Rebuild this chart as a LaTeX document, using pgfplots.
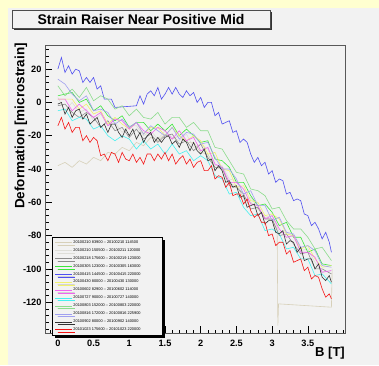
\documentclass[border=0pt]{standalone}
\usepackage{fontspec}
\setmainfont{Liberation Sans}
\usepackage{pgfplots}
\pgfplotsset{compat=1.18}
\usepackage{pgfplotstable}
\usetikzlibrary{shadows}
\definecolor{bgy}{RGB}{255,255,208}
\definecolor{pad}{RGB}{242,242,242}
\definecolor{cA}{RGB}{215,208,185}
\definecolor{cB}{RGB}{222,222,216}
\definecolor{cC}{RGB}{140,140,140}
\definecolor{cD}{RGB}{60,230,60}
\definecolor{cE}{RGB}{80,80,240}
\definecolor{cF}{RGB}{240,240,110}
\definecolor{cG}{RGB}{240,100,240}
\definecolor{cH}{RGB}{70,240,240}
\definecolor{cI}{RGB}{140,220,140}
\definecolor{cJ}{RGB}{160,160,240}
\definecolor{cK}{RGB}{50,50,50}
\definecolor{cL}{RGB}{245,20,20}
\newcommand{\LE}[1]{\makebox[86pt][l]{#1}}

\pgfplotstableread{
B lg gr gn ye ma cy lgn lav
0.0 3 -2 4 2 2 -5 10 14
0.1 -5 -1 5 2 2 -4 4 11
0.2 0 -6 6 2 -5 -11 8 5
0.3 -6 -9 0 -4 -1 -9 3 1
0.4 -4 -6 2 -1 -5 -10 9 4
0.5 -11 -9 -5 -7 -9 -16 1 -5
0.6 -7 -15 -2 -5 -6 -14 4 -4
0.7 -14 -11 -8 -13 -14 -20 2 -6
0.8 -12 -17 -11 -9 -10 -23 -4 -13
0.9 -18 -15 -8 -13 -11 -20 -2 -10
1.0 -14 -21 -15 -16 -16 -22 -8 -15
1.1 -14 -16 -12 -12 -12 -28 -4 -12
1.2 -20 -22 -12 -19 -17 -23 -9 -19
1.3 -17 -19 -17 -15 -19 -28 -10 -14
1.4 -22 -24 -13 -15 -15 -25 -6 -17
1.5 -17 -20 -17 -20 -17 -31 -13 -20
1.6 -21 -19 -13 -15 -22 -25 -9 -15
1.7 -23 -25 -20 -20 -17 -31 -9 -22
1.8 -19 -23 -16 -23 -23 -29 -15 -18
1.9 -27 -29 -20 -20 -21 -35 -12 -19
2.0 -25 -25 -24 -23 -29 -32 -17 -25
2.1 -28 -33 -23 -31 -27 -35 -17 -24
2.2 -38 -39 -34 -30 -37 -44 -27 -33
2.3 -38 -39 -35 -40 -39 -46 -28 -40
2.4 -46 -50 -39 -41 -48 -55 -35 -40
2.5 -47 -51 -48 -51 -48 -54 -42 -46
2.6 -58 -55 -48 -50 -52 -63 -43 -55
2.7 -57 -64 -56 -59 -61 -68 -52 -53
2.8 -63 -63 -62 -60 -62 -67 -53 -62
2.9 -69 -70 -61 -68 -70 -77 -56 -62
3.0 -68 -70 -66 -67 -68 -76 -64 -71
3.1 -78 -80 -74 -70 -76 -79 -63 -69
3.2 -78 -79 -72 -79 -81 -88 -71 -78
3.3 -81 -85 -81 -80 -80 -87 -76 -79
3.4 -89 -91 -81 -88 -90 -94 -76 -87
3.5 -88 -90 -90 -86 -90 -94 -81 -86
3.6 -96 -100 -88 -94 -93 -104 -88 -89
3.7 -102 -100 -97 -99 -102 -103 -87 -98
3.83 -101 -103 -98 -98 -101 -109 -95 -99
}\tenth

\begin{document}
\begin{tikzpicture}[x=1pt,y=1pt]
\useasboundingbox (0,0) rectangle (379,365);
\fill[bgy] (0,0) rectangle (379,365);
\fill[pad] (8,0) rectangle (379,357);
\fill[black!80] (14,335) rectangle (272,353);
\filldraw[fill=pad, draw=gray!60!black, line width=0.6pt] (12,337) rectangle (270,355);
\node[font=\bfseries\fontsize{14}{16}\selectfont] at (141,346) {Strain Raiser Near Positive Mid};
\begin{axis}[
  at={(45pt,32pt)}, anchor=south west, scale only axis,
  width=300pt, height=288pt,
  xmin=-0.18, xmax=4.02, ymin=-138.5, ymax=34.5,
  axis background/.style={fill=pad},
  axis line style={draw=gray!70!black, line width=0.6pt},
  tick align=inside, xtick pos=bottom, ytick pos=left,
  xtick={0,0.5,1,1.5,2,2.5,3,3.5},
  xticklabels={0,0.5,1,1.5,2,2.5,3,3.5},
  ytick={-120,-100,-80,-60,-40,-20,0,20},
  yticklabels={-120,-100,-80,-60,-40,-20,0,20},
  minor xtick={-0.1,0,0.1,...,4.01},
  minor ytick={-136,-132,...,32},
  major tick length=7pt, minor tick length=3.5pt,
  tick style={black, line width=0.5pt},
  ticklabel style={font=\bfseries\fontsize{9.2}{10}\selectfont},
  xticklabel style={yshift=-4pt},
  clip=true,
  legend style={at={(0.0233,0.333)}, anchor=north west,
    font=\fontsize{3.9}{4.2}\selectfont, draw=black, fill=pad, line width=0.5pt,
    drop shadow={shadow xshift=2.5pt, shadow yshift=-2.5pt, fill=black, opacity=1},
    row sep=2.1pt, inner sep=2.5pt, nodes={inner sep=0.8pt}},
  legend cell align=left,
  legend image code/.code={\draw[line width=0.9pt] (0pt,0pt) -- (17pt,0pt);},
]
\addplot[cA, line width=0.6pt] coordinates {(0,-38)(0.1,-36)(0.2,-39)(0.3,-35)(0.4,-37)(0.5,-33)(0.6,-35)(0.7,-30)(0.8,-31)(0.9,-27)(1.0,-29)(1.1,-24)(1.2,-26)(1.3,-21)(1.4,-23)(1.5,-19)(1.6,-22)(1.7,-20)(1.8,-24)(1.9,-24)(2.0,-30)(2.1,-31)(2.2,-39)(2.3,-40)(2.4,-49)(2.5,-50)(2.6,-57)(2.7,-60)(2.8,-64)(2.9,-69)(3.0,-71)(3.07,-76)(3.08,-134)(3.09,-121)(3.83,-123)(3.84,-100)};
\addlegendentry{\LE{20100210 83900 -- 20100210 114500}}
\addplot[cB, line width=0.6pt] table[x=B,y=lg]{\tenth};
\addlegendentry{\LE{20100210 150500 -- 20100211 120000}}
\addplot[cC, line width=0.6pt] table[x=B,y=gr]{\tenth};
\addlegendentry{\LE{20100218 175600 -- 20100219 123000}}
\addplot[cD, line width=0.6pt] table[x=B,y=gn]{\tenth};
\addlegendentry{\LE{20100305 123000 -- 20100305 163000}}
\addplot[cE, line width=0.6pt] coordinates {(0,20)(0.05,27)(0.1,18)(0.15,22)(0.2,17)(0.25,20)(0.3,19)(0.35,12)(0.4,15)(0.45,12)(0.5,15)(0.55,8)(0.6,10)(0.65,2)(0.7,2)(0.75,2)(0.8,-3)(1.1,-2)(1.15,4)(1.2,-1)(1.25,5)(1.3,7)(1.35,4)(1.4,9)(1.45,2)(1.5,5)(1.55,9)(1.6,5)(1.65,9)(1.7,5)(1.75,3)(1.8,7)(1.85,4)(1.9,6)(1.95,0)(2.0,3)(2.05,-3)(2.1,0)(2.15,0)(2.2,-8)(2.25,-6)(2.3,-13)(2.35,-12)(2.4,-11)(2.45,-18)(2.5,-17)(2.55,-24)(2.6,-22)(2.65,-24)(2.7,-31)(2.75,-36)(2.8,-33)(2.85,-38)(2.9,-36)(2.95,-43)(3.0,-41)(3.05,-48)(3.1,-46)(3.15,-47)(3.2,-55)(3.25,-54)(3.3,-59)(3.35,-58)(3.4,-59)(3.45,-67)(3.5,-68)(3.55,-74)(3.6,-72)(3.65,-76)(3.7,-82)(3.75,-78)(3.8,-84)(3.83,-90)};
\addlegendentry{\LE{20100415 144500 -- 20100415 220000}}
\addplot[cF, line width=0.6pt] table[x=B,y=ye]{\tenth};
\addlegendentry{\LE{20100430 80000 -- 20100430 130000}}
\addplot[cG, line width=0.6pt] table[x=B,y=ma]{\tenth};
\addlegendentry{\LE{20100602 82900 -- 20100602 114000}}
\addplot[cH, line width=0.6pt] table[x=B,y=cy]{\tenth};
\addlegendentry{\LE{20100727 90000 -- 20100727 140000}}
\addplot[cI, line width=0.6pt] table[x=B,y=lgn]{\tenth};
\addlegendentry{\LE{20100803 152000 -- 20100803 220000}}
\addplot[cJ, line width=0.6pt] table[x=B,y=lav]{\tenth};
\addlegendentry{\LE{20100816 172000 -- 20100816 225900}}
\addplot[cK, line width=0.6pt] coordinates {(0,-1)(0.05,0)(0.1,-7)(0.15,-3)(0.2,-9)(0.25,-5)(0.3,-4)(0.35,-10)(0.4,-7)(0.45,-13)(0.5,-11)(0.55,-9)(0.6,-15)(0.65,-13)(0.7,-18)(0.75,-13)(0.8,-13)(0.85,-18)(0.9,-21)(0.95,-16)(1.0,-20)(1.05,-16)(1.1,-22)(1.15,-18)(1.2,-24)(1.25,-20)(1.3,-18)(1.35,-24)(1.4,-21)(1.45,-24)(1.5,-21)(1.55,-20)(1.6,-25)(1.65,-23)(1.7,-27)(1.75,-22)(1.8,-24)(1.85,-29)(1.9,-24)(1.95,-29)(2.0,-31)(2.05,-28)(2.1,-35)(2.15,-34)(2.2,-41)(2.25,-38)(2.3,-41)(2.35,-48)(2.4,-47)(2.45,-51)(2.5,-50)(2.55,-57)(2.6,-56)(2.65,-63)(2.7,-62)(2.75,-61)(2.8,-68)(2.85,-66)(2.9,-73)(2.95,-71)(3.0,-71)(3.05,-78)(3.1,-79)(3.15,-77)(3.2,-85)(3.25,-83)(3.3,-84)(3.35,-90)(3.4,-87)(3.45,-95)(3.5,-94)(3.55,-94)(3.6,-100)(3.65,-97)(3.7,-105)(3.75,-107)(3.8,-104)(3.83,-108)};
\addlegendentry{\LE{20100902 80000 -- 20100902 140000}}
\addplot[cL, line width=0.6pt] coordinates {(0,-14)(0.05,-9)(0.1,-16)(0.15,-12)(0.2,-18)(0.25,-15)(0.3,-15)(0.35,-23)(0.4,-20)(0.45,-24)(0.5,-21)(0.55,-23)(0.6,-32)(0.65,-31)(0.7,-35)(0.75,-30)(0.8,-31)(0.85,-36)(0.9,-30)(0.95,-34)(1.0,-35)(1.05,-31)(1.1,-36)(1.15,-33)(1.2,-37)(1.25,-31)(1.3,-31)(1.35,-35)(1.4,-31)(1.45,-34)(1.5,-30)(1.55,-35)(1.6,-31)(1.65,-37)(1.7,-34)(1.75,-32)(1.8,-37)(1.85,-34)(1.9,-39)(1.95,-36)(2.0,-35)(2.05,-41)(2.1,-41)(2.15,-38)(2.2,-46)(2.25,-44)(2.3,-45)(2.35,-51)(2.4,-48)(2.45,-56)(2.5,-55)(2.55,-55)(2.6,-61)(2.65,-58)(2.7,-65)(2.75,-69)(2.8,-67)(2.85,-72)(2.9,-72)(2.95,-80)(3.0,-79)(3.05,-86)(3.1,-84)(3.15,-84)(3.2,-91)(3.25,-89)(3.3,-96)(3.35,-95)(3.4,-94)(3.45,-101)(3.5,-99)(3.55,-106)(3.6,-104)(3.65,-105)(3.7,-112)(3.75,-117)(3.8,-115)(3.83,-118)};
\addlegendentry{\LE{20101023 175600 -- 20101023 220000}}
\end{axis}
\node[font=\bfseries\fontsize{13}{15}\selectfont, anchor=north east, inner sep=0pt] at (345,18) {B [T]};
\node[font=\bfseries\fontsize{13.5}{15}\selectfont, rotate=90, anchor=east, inner sep=0pt] at (21,322) {Deformation [microstrain]};
\end{tikzpicture}
\end{document}
